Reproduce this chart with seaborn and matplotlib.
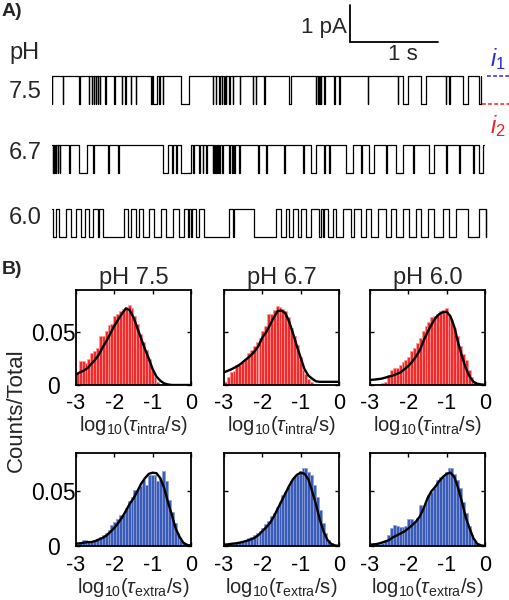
import numpy as np
import pandas as pd
import matplotlib
matplotlib.use('Agg')
import matplotlib.pyplot as plt
import seaborn as sns

sns.set_theme(style='ticks')
plt.rcParams['font.family'] = ['Liberation Sans', 'DejaVu Sans']
plt.rcParams['mathtext.fontset'] = 'custom'
plt.rcParams['mathtext.rm'] = 'Liberation Sans'
plt.rcParams['mathtext.it'] = 'Liberation Sans:italic'
plt.rcParams['mathtext.bf'] = 'Liberation Sans:bold'
plt.rcParams['axes.unicode_minus'] = False

# ---------------- data: single-channel traces (seconds) ----------------
trace_ph = ['7.5', '6.7', '6.0']
trace_len = [4.875, 4.91, 4.935]
i_amp = 0.75  # pA, i1 - i2

low75_start = [0.0, 0.121, 0.311, 0.417, 0.455, 0.477, 0.500, 0.523, 0.545, 0.606, 0.708, 0.795,
               0.833, 0.898, 0.955, 1.125, 1.150, 1.220, 1.258, 1.466, 1.826, 1.864, 1.900, 1.930,
               1.958, 1.977, 2.015, 2.053, 2.136, 2.280, 2.318, 2.413, 2.697, 3.000, 3.019, 3.038,
               3.057, 3.095, 3.208, 3.265, 3.587, 3.928, 3.985, 4.193, 4.477, 4.515, 4.667, 4.856]
low75_end = [0.004, 0.125, 0.315, 0.421, 0.459, 0.481, 0.504, 0.527, 0.549, 0.610, 0.712, 0.799,
             0.837, 0.902, 0.959, 1.140, 1.190, 1.224, 1.262, 1.561, 1.830, 1.868, 1.904, 1.934,
             1.962, 1.981, 2.019, 2.057, 2.140, 2.284, 2.322, 2.417, 2.717, 3.004, 3.023, 3.042,
             3.061, 3.099, 3.212, 3.269, 3.591, 3.932, 4.040, 4.250, 4.481, 4.519, 4.724, 4.875]

low67_start = [0.008, 0.027, 0.045, 0.064, 0.087, 0.189, 0.311, 0.470, 0.633, 0.750, 1.258, 1.360,
               1.409, 1.466, 1.598, 1.667, 1.712, 1.750, 1.826, 1.845, 1.864, 1.883, 1.902, 1.932,
               2.015, 2.042, 2.072, 2.129, 2.337, 2.432, 2.640, 2.848, 2.943, 3.095, 3.152, 3.341,
               3.511, 3.606, 3.795, 3.909, 4.098, 4.288, 4.477, 4.629, 4.780, 4.856]
low67_end = [0.014, 0.033, 0.051, 0.070, 0.095, 0.205, 0.394, 0.481, 0.644, 0.765, 1.314, 1.371,
             1.420, 1.580, 1.610, 1.678, 1.720, 1.761, 1.833, 1.852, 1.871, 1.890, 1.909, 1.943,
             2.027, 2.053, 2.083, 2.140, 2.348, 2.447, 2.652, 2.860, 3.000, 3.106, 3.163, 3.417,
             3.523, 3.663, 3.807, 3.985, 4.110, 4.345, 4.489, 4.640, 4.792, 4.894]

low60_start = [0.008, 0.083, 0.216, 0.330, 0.417, 0.519, 0.576, 0.860, 0.955, 1.030, 1.163, 1.295,
               1.447, 1.542, 1.580, 1.636, 1.731, 2.053, 2.299, 2.602, 2.697, 2.792, 2.886, 3.038,
               3.076, 3.133, 3.227, 3.398, 3.511, 3.625, 3.795, 3.909, 4.061, 4.193, 4.345, 4.515,
               4.723, 4.928]
low60_end = [0.045, 0.159, 0.273, 0.379, 0.462, 0.538, 0.822, 0.898, 0.985, 1.106, 1.239, 1.371,
             1.504, 1.561, 1.591, 1.674, 2.015, 2.072, 2.545, 2.659, 2.735, 2.830, 2.943, 3.057,
             3.095, 3.189, 3.303, 3.436, 3.568, 3.701, 3.852, 3.985, 4.136, 4.269, 4.439, 4.591,
             4.856, 4.935]

# ---------------- data: dwell-time histograms ----------------
bin_width = 0.075
bin_centers = np.round(np.arange(-3 + bin_width / 2, 0, bin_width), 4)
fit_x = np.round(np.arange(-3.0, 0.001, 0.1), 2)
col_titles = ['pH 7.5', 'pH 6.7', 'pH 6.0']

h_intra_75 = [0.011, 0.023, 0.023, 0.021, 0.025, 0.030, 0.032, 0.035, 0.046, 0.046, 0.051, 0.057,
              0.058, 0.065, 0.067, 0.070, 0.072, 0.074, 0.076, 0.073, 0.065, 0.058, 0.048, 0.041,
              0.033, 0.025, 0.014, 0.008, 0.003, 0.001, 0, 0, 0, 0, 0, 0, 0, 0, 0, 0]
h_intra_67 = [0.003, 0.008, 0.012, 0.013, 0.019, 0.019, 0.022, 0.025, 0.030, 0.033, 0.037, 0.041,
              0.045, 0.051, 0.056, 0.067, 0.067, 0.071, 0.075, 0.074, 0.072, 0.070, 0.064, 0.054,
              0.046, 0.038, 0.027, 0.014, 0.010, 0.006, 0.0025, 0.001, 0, 0, 0, 0, 0, 0, 0, 0]
h_intra_60 = [0, 0, 0.0005, 0.001, 0.002, 0.003, 0.0095, 0.014, 0.0165, 0.0165, 0.019, 0.022,
              0.024, 0.027, 0.032, 0.035, 0.040, 0.045, 0.051, 0.056, 0.060, 0.064, 0.065, 0.0675,
              0.070, 0.0707, 0.0726, 0.0675, 0.062, 0.054, 0.046, 0.037, 0.029, 0.024, 0.014, 0.008,
              0.003, 0.0013, 0, 0]
h_extra_75 = [0.002, 0.004, 0.0055, 0.0055, 0.004, 0.0036, 0.0055, 0.006, 0.008, 0.0097, 0.012, 0.015,
              0.019, 0.022, 0.025, 0.0285, 0.0285, 0.035, 0.041, 0.045, 0.051, 0.051, 0.055, 0.060,
              0.056, 0.065, 0.065, 0.065, 0.059, 0.062, 0.0685, 0.059, 0.042, 0.0315, 0.021, 0.012,
              0.0058, 0.0027, 0.0012, 0.0006]
h_extra_67 = [0.0006, 0.001, 0.0012, 0.0018, 0.0024, 0.0033, 0.0042, 0.0055, 0.0073, 0.008, 0.0097,
              0.012, 0.014, 0.016, 0.020, 0.023, 0.027, 0.030, 0.036, 0.0405, 0.0467, 0.0497, 0.054,
              0.059, 0.063, 0.065, 0.069, 0.0715, 0.071, 0.068, 0.065, 0.056, 0.045, 0.033, 0.021,
              0.012, 0.0058, 0.0027, 0.0012, 0.0005]
h_extra_60 = [0.0005, 0.001, 0.0015, 0.002, 0.003, 0.005, 0.0103, 0.0164, 0.019, 0.018, 0.017, 0.017,
              0.018, 0.025, 0.025, 0.0224, 0.026, 0.0376, 0.035, 0.039, 0.0467, 0.0497, 0.053, 0.060,
              0.063, 0.063, 0.068, 0.0715, 0.0715, 0.066, 0.060, 0.053, 0.0406, 0.030, 0.018, 0.0103,
              0.005, 0.0018, 0.0006, 0]

c_intra_75 = [0.010, 0.012, 0.0135, 0.016, 0.020, 0.024, 0.029, 0.036, 0.042, 0.049, 0.056, 0.062,
              0.0675, 0.0725, 0.071, 0.064, 0.054, 0.044, 0.034, 0.025, 0.015, 0.008, 0.004, 0.0015,
              0.0005, 0, 0, 0, 0, 0, 0]
c_intra_67 = [0.012, 0.0135, 0.015, 0.017, 0.019, 0.022, 0.025, 0.028, 0.032, 0.037, 0.045, 0.050,
              0.057, 0.064, 0.070, 0.0705, 0.068, 0.060, 0.049, 0.037, 0.026, 0.015, 0.009, 0.006,
              0.0035, 0.003, 0.003, 0.003, 0.003, 0.003, 0.003]
c_intra_60 = [0.0048, 0.0051, 0.0055, 0.006, 0.007, 0.008, 0.009, 0.0105, 0.012, 0.015, 0.018, 0.022,
              0.027, 0.033, 0.042, 0.050, 0.057, 0.063, 0.067, 0.069, 0.0694, 0.065, 0.055, 0.040,
              0.027, 0.016, 0.008, 0.003, 0.0012, 0.0005, 0.0002]
c_extra_75 = [0.0021, 0.0024, 0.003, 0.0035, 0.0036, 0.0045, 0.006, 0.0075, 0.0097, 0.013, 0.0165,
              0.021, 0.026, 0.032, 0.0385, 0.0435, 0.050, 0.057, 0.062, 0.066, 0.067, 0.0665, 0.062,
              0.053, 0.040, 0.0285, 0.016, 0.0085, 0.003, 0.001, 0.0003]
c_extra_67 = [0.0012, 0.0015, 0.002, 0.0024, 0.003, 0.0038, 0.0048, 0.006, 0.0075, 0.010, 0.0135,
              0.017, 0.021, 0.027, 0.034, 0.041, 0.048, 0.055, 0.061, 0.065, 0.067, 0.066, 0.061,
              0.050, 0.038, 0.024, 0.013, 0.0055, 0.0018, 0.0005, 0.0001]
c_extra_60 = [0.0012, 0.0015, 0.002, 0.003, 0.0042, 0.0055, 0.008, 0.0097, 0.0115, 0.0133, 0.016,
              0.019, 0.0224, 0.027, 0.0345, 0.0436, 0.050, 0.054, 0.059, 0.063, 0.066, 0.067, 0.063,
              0.053, 0.040, 0.026, 0.016, 0.007, 0.002, 0.0005, 0.0001]

# ---------------- figure ----------------
W, H = 510, 600
fig = plt.figure(figsize=(W / 100, H / 100), dpi=100)


def px_axes(l, t, r, b):
    return fig.add_axes([l / W, 1 - b / H, (r - l) / W, (b - t) / H])


def ftext(x, y, s, **kw):
    fig.text(x / W, 1 - y / H, s, **kw)


# ---- Panel A ----
SEC_PX, PA_PX = 88.0, 37.0
axA = px_axes(52, 0, 510, 250)
axA.set_xlim(0, 458 / SEC_PX)
axA.set_ylim(0, 250 / PA_PX)
axA.axis('off')

trace_base = [3.946, 2.081, 0.351]  # vertical offsets of the i2 level (pA)
lows = [(low75_start, low75_end), (low67_start, low67_end), (low60_start, low60_end)]
for k in range(3):
    lo = trace_base[k]
    hi = lo + i_amp
    xs, ys = [0.0], [hi]
    for s, e in zip(*lows[k]):
        xs += [s, s, e, e]
        ys += [hi, lo, lo, hi]
    xs.append(trace_len[k])
    ys.append(ys[-1])
    df_tr = pd.DataFrame({'t': xs, 'i': ys})
    sns.lineplot(data=df_tr, x='t', y='i', ax=axA, estimator=None, sort=False, color='black', lw=0.9)
    ftext(9, [92, 153, 218][k], trace_ph[k], fontsize=17, ha='left', va='center')

# scale bar
sb_x = (350 - 52) / SEC_PX
sb_y = (250 - 42) / PA_PX
axA.plot([sb_x, sb_x, sb_x + 1.0], [sb_y + 1.0, sb_y, sb_y], color='black', lw=1.3,
         solid_joinstyle='miter')
ftext(347, 27, '1 pA', fontsize=16, ha='right', va='center')
ftext(403, 55, '1 s', fontsize=16, ha='center', va='center')

# i1 / i2 dashed guides
hi75 = trace_base[0] + i_amp
lo75 = trace_base[0]
axA.plot([(487 - 52) / SEC_PX, 458 / SEC_PX], [hi75, hi75], color='#2a2ae0', lw=1.1, ls=(0, (2.5, 1.5)))
axA.plot([(482 - 52) / SEC_PX, 458 / SEC_PX], [lo75, lo75], color='#ee2020', lw=1.1, ls=(0, (2.5, 1.5)))
ftext(498, 59, r'$\it{i}_{\rm 1}$', fontsize=17, color='#2a2ae0', ha='center', va='center')
ftext(498, 126, r'$\it{i}_{\rm 2}$', fontsize=17, color='#ee2020', ha='center', va='center')

ftext(2, 12, 'A)', fontsize=14, fontweight='bold', ha='left', va='center')
ftext(9, 53, 'pH', fontsize=17, ha='left', va='center')

# ---- Panel B ----
cols = [(76, 191), (224, 339), (370, 485)]
rows = [(290, 385), (453, 546)]
row_ylim = [0.09, 0.085]
row_xpad = [5.5, 6.5]
hists = [[h_intra_75, h_intra_67, h_intra_60], [h_extra_75, h_extra_67, h_extra_60]]
fits = [[c_intra_75, c_intra_67, c_intra_60], [c_extra_75, c_extra_67, c_extra_60]]
fill = ['#ef2b2b', '#3a5bb6']
edge = ['#ff9a9a', '#8ea2dc']
xlabels = [r'log$_{10}$($\tau_{\rm intra}$/s)', r'log$_{10}$($\tau_{\rm extra}$/s)']

for r in range(2):
    for c in range(3):
        ax = px_axes(cols[c][0], rows[r][0], cols[c][1], rows[r][1])
        df_h = pd.DataFrame({'logt': bin_centers, 'frac': np.asarray(hists[r][c], dtype=float)})
        sns.histplot(data=df_h, x='logt', weights='frac', binwidth=bin_width, binrange=(-3, 0),
                     ax=ax, color=fill[r], edgecolor=edge[r], linewidth=0.5, alpha=1)
        df_f = pd.DataFrame({'logt': fit_x, 'frac': fits[r][c]})
        sns.lineplot(data=df_f, x='logt', y='frac', ax=ax, color='black', lw=1.7, estimator=None)
        ax.set_xlim(-3, 0)
        ax.set_ylim(0, row_ylim[r])
        ax.set_xticks([-3, -2, -1, 0])
        ax.set_xticklabels(['-3', '-2', '-1', '0'], fontsize=15.5)
        ax.set_yticks([0, 0.05])
        ax.set_yticklabels(['0', '0.05'], fontsize=16.5, ha='center')
        ax.tick_params(direction='in', length=3, width=1, top=True, right=True,
                       labelleft=(c == 0), colors='black')
        ax.tick_params(axis='x', pad=row_xpad[r])
        ax.tick_params(axis='y', pad=16)
        for sp in ax.spines.values():
            sp.set_visible(True)
            sp.set_linewidth(1.3)
            sp.set_color('black')
        ax.set_ylabel('')
        ax.set_xlabel(xlabels[r], fontsize=14.5, labelpad=0)
        if r == 0:
            ax.set_title(col_titles[c], fontsize=17, pad=4)

ftext(2, 270, 'B)', fontsize=14, fontweight='bold', ha='left', va='center')
ftext(16, 410, 'Counts/Total', fontsize=16, rotation=90, ha='center', va='center')

fig.savefig('out.png', dpi=100)
